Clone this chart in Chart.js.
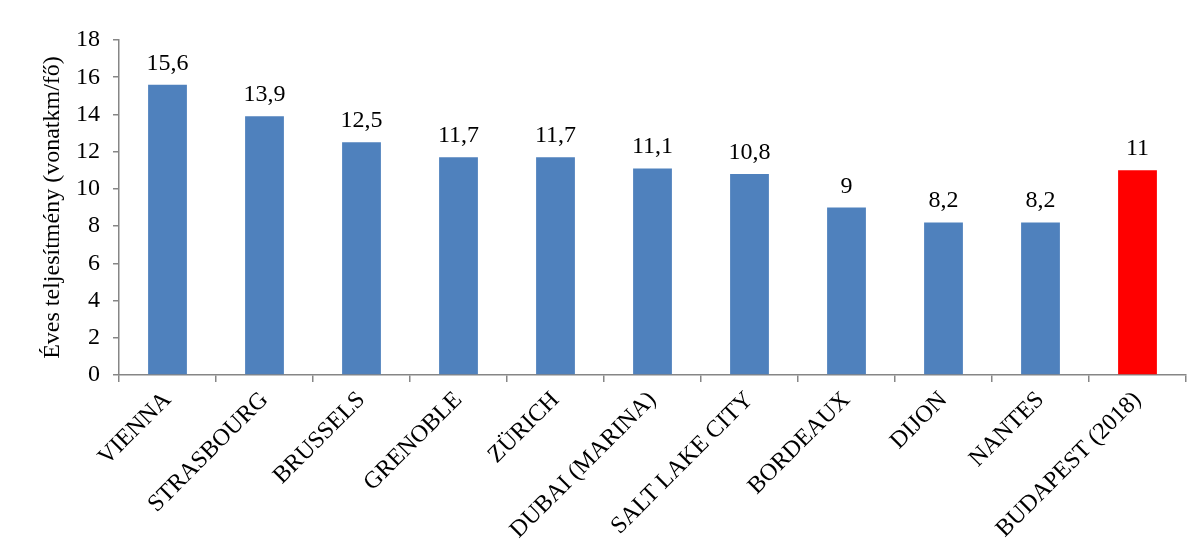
<!DOCTYPE html>
<html lang="hu">
<head>
    <meta charset="UTF-8">
    <title>Éves teljesítmény</title>
    <script src="https://cdn.jsdelivr.net/npm/chart.js"></script>
    <style>
        html, body { margin: 0; padding: 0; background: #fff; }
        #wrap { width: 1203px; height: 556px; }
    </style>
</head>
<body>
    <div id="wrap"><canvas id="chart"></canvas></div>

    <script>
        // Data
        const cities = ['VIENNA', 'STRASBOURG', 'BRUSSELS', 'GRENOBLE', 'ZÜRICH', 'DUBAI (MARINA)',
                        'SALT LAKE CITY', 'BORDEAUX', 'DIJON', 'NANTES', 'BUDAPEST (2018)'];
        const values = [15.6, 13.9, 12.5, 11.7, 11.7, 11.1, 10.8, 9, 8.2, 8.2, 11];
        const yTicks = [0, 2, 4, 6, 8, 10, 12, 14, 16, 18];
        const yTitle = 'Éves teljesítmény (vonatkm/fő)';

        const FONT = '"Liberation Serif", "Times New Roman", Times, serif';
        const AXIS = '#868686';
        const barColors = cities.map(c => c.startsWith('BUDAPEST') ? '#FF0000' : '#4F81BD');

        // value labels above bars, decimal comma
        const valueLabels = {
            id: 'valueLabels',
            afterDatasetsDraw(chart) {
                const ctx = chart.ctx;
                const meta = chart.getDatasetMeta(0);
                ctx.save();
                ctx.font = '24px ' + FONT;
                ctx.fillStyle = '#000';
                ctx.textAlign = 'center';
                ctx.textBaseline = 'alphabetic';
                meta.data.forEach((bar, i) => {
                    ctx.fillText(String(values[i]).replace('.', ','), bar.x, bar.y - 15);
                });
                ctx.restore();
            }
        };

        function draw() {
            new Chart(document.getElementById('chart'), {
                type: 'bar',
                data: {
                    labels: cities,
                    datasets: [{
                        data: values,
                        backgroundColor: barColors,
                        borderWidth: 0,
                        categoryPercentage: 1,
                        barPercentage: 0.4
                    }]
                },
                options: {
                    responsive: true,
                    maintainAspectRatio: false,
                    animation: false,
                    layout: { padding: { top: 40, right: 17, left: 0, bottom: 0 } },
                    plugins: {
                        legend: { display: false },
                        tooltip: { enabled: false }
                    },
                    scales: {
                        x: {
                            grid: {
                                offset: true,
                                drawOnChartArea: false,
                                drawTicks: true,
                                tickLength: 7,
                                color: AXIS,
                                lineWidth: 1.5
                            },
                            border: { color: AXIS, width: 1.5 },
                            ticks: {
                                minRotation: 45,
                                maxRotation: 45,
                                padding: 4,
                                color: '#000',
                                font: { family: FONT, size: 24 }
                            },
                            afterFit(scale) { scale.height = 181; }
                        },
                        y: {
                            min: 0,
                            max: 18,
                            afterBuildTicks(scale) { scale.ticks = yTicks.map(v => ({ value: v })); },
                            grid: {
                                drawOnChartArea: false,
                                drawTicks: true,
                                tickLength: 6,
                                color: AXIS,
                                lineWidth: 1.5
                            },
                            border: { color: AXIS, width: 1.5 },
                            ticks: {
                                padding: 13,
                                color: '#000',
                                font: { family: FONT, size: 24 }
                            },
                            title: {
                                display: true,
                                text: yTitle,
                                color: '#000',
                                font: { family: FONT, size: 24 },
                                padding: { top: 38, bottom: 0 }
                            },
                            afterFit(scale) { scale.width = 119; }
                        }
                    }
                },
                plugins: [valueLabels]
            });
        }

        // make sure the serif face is ready before drawing on canvas
        document.fonts.load('24px "Liberation Serif"').then(draw, draw);
    </script>
</body>
</html>
